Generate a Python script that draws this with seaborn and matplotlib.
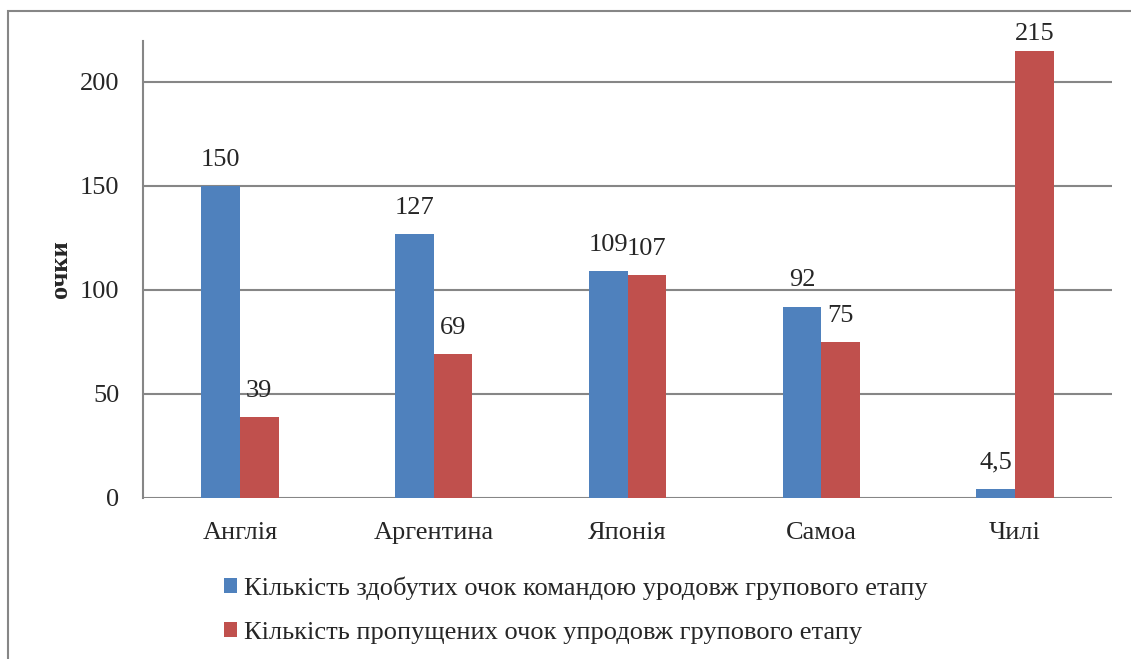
import pandas as pd
import matplotlib
matplotlib.use("Agg")
import matplotlib.pyplot as plt
import seaborn as sns
from matplotlib.patches import Rectangle, Patch
from matplotlib.container import BarContainer

# Дані
countries = ['Англія', 'Аргентина', 'Японія', 'Самоа', 'Чилі']
scored = [150, 127, 109, 92, 4.5]
conceded = [39, 69, 107, 75, 215]
series_names = ['Кількість здобутих очок командою уродовж групового етапу',
                'Кількість пропущених очок упродовж групового етапу']
colors = ['#4F81BD', '#C0504D']

df = pd.DataFrame({
    'Країна': countries * 2,
    'Очки': scored + conceded,
    'Серія': [series_names[0]] * len(countries) + [series_names[1]] * len(countries),
})

sns.set_style("white")
plt.rcParams['font.family'] = ['Liberation Serif', 'DejaVu Serif']

fig = plt.figure(figsize=(11.31, 6.59), dpi=100)
ax = fig.add_axes([143 / 1131, 1 - 498 / 659, (1112 - 143) / 1131, (498 - 41) / 659])

sns.barplot(data=df, x='Країна', y='Очки', hue='Серія', palette=colors,
            width=0.4, dodge=True, gap=0, saturation=1, linewidth=0,
            ax=ax, legend=False)

ax.set_xlim(-0.5, 4.5)
ax.set_ylim(0, 219.7)
ax.set_yticks([0, 50, 100, 150, 200])
ax.yaxis.grid(True, color='#868686', linewidth=1.5)
ax.set_axisbelow(True)
for side in ['top', 'right', 'bottom']:
    ax.spines[side].set_visible(False)
ax.spines['left'].set_color('#868686')
ax.spines['left'].set_linewidth(1.5)
ax.tick_params(axis='y', length=8, width=1.5, color='#868686', pad=9, labelsize=19)
ax.tick_params(axis='x', length=0, pad=17, labelsize=19)
ax.set_xlabel('')
ax.set_ylabel('очки', fontsize=19, fontweight='bold', labelpad=6)

# Підписи даних (найвищий стовпчик - трохи ближче до вершини)
for cont, vals in zip(ax.containers, [scored, conceded]):
    for patch, v in zip(cont.patches, vals):
        label = str(v).replace('.', ',') if v != int(v) else str(int(v))
        pad = 4 if v > 210 else 11
        single = BarContainer([patch], datavalues=[v], orientation='vertical')
        ax.bar_label(single, labels=[label], padding=pad, fontsize=19)

handles = [Patch(facecolor=c, edgecolor='none') for c in colors]
fig.legend(handles, series_names, loc='upper left', bbox_to_anchor=(224 / 1131, 1 - 576 / 659),
           frameon=False, fontsize=19, handlelength=0.5, handleheight=0.5,
           handletextpad=0.25, labelspacing=0.85, borderaxespad=0, borderpad=0)

# Рамка
fig.add_artist(Rectangle((8 / 1131, -0.1), 1.2, 1 - 11 / 659 + 0.1, transform=fig.transFigure,
                         fill=False, edgecolor='#868686', linewidth=1.5))

fig.savefig('out.png', dpi=100)
